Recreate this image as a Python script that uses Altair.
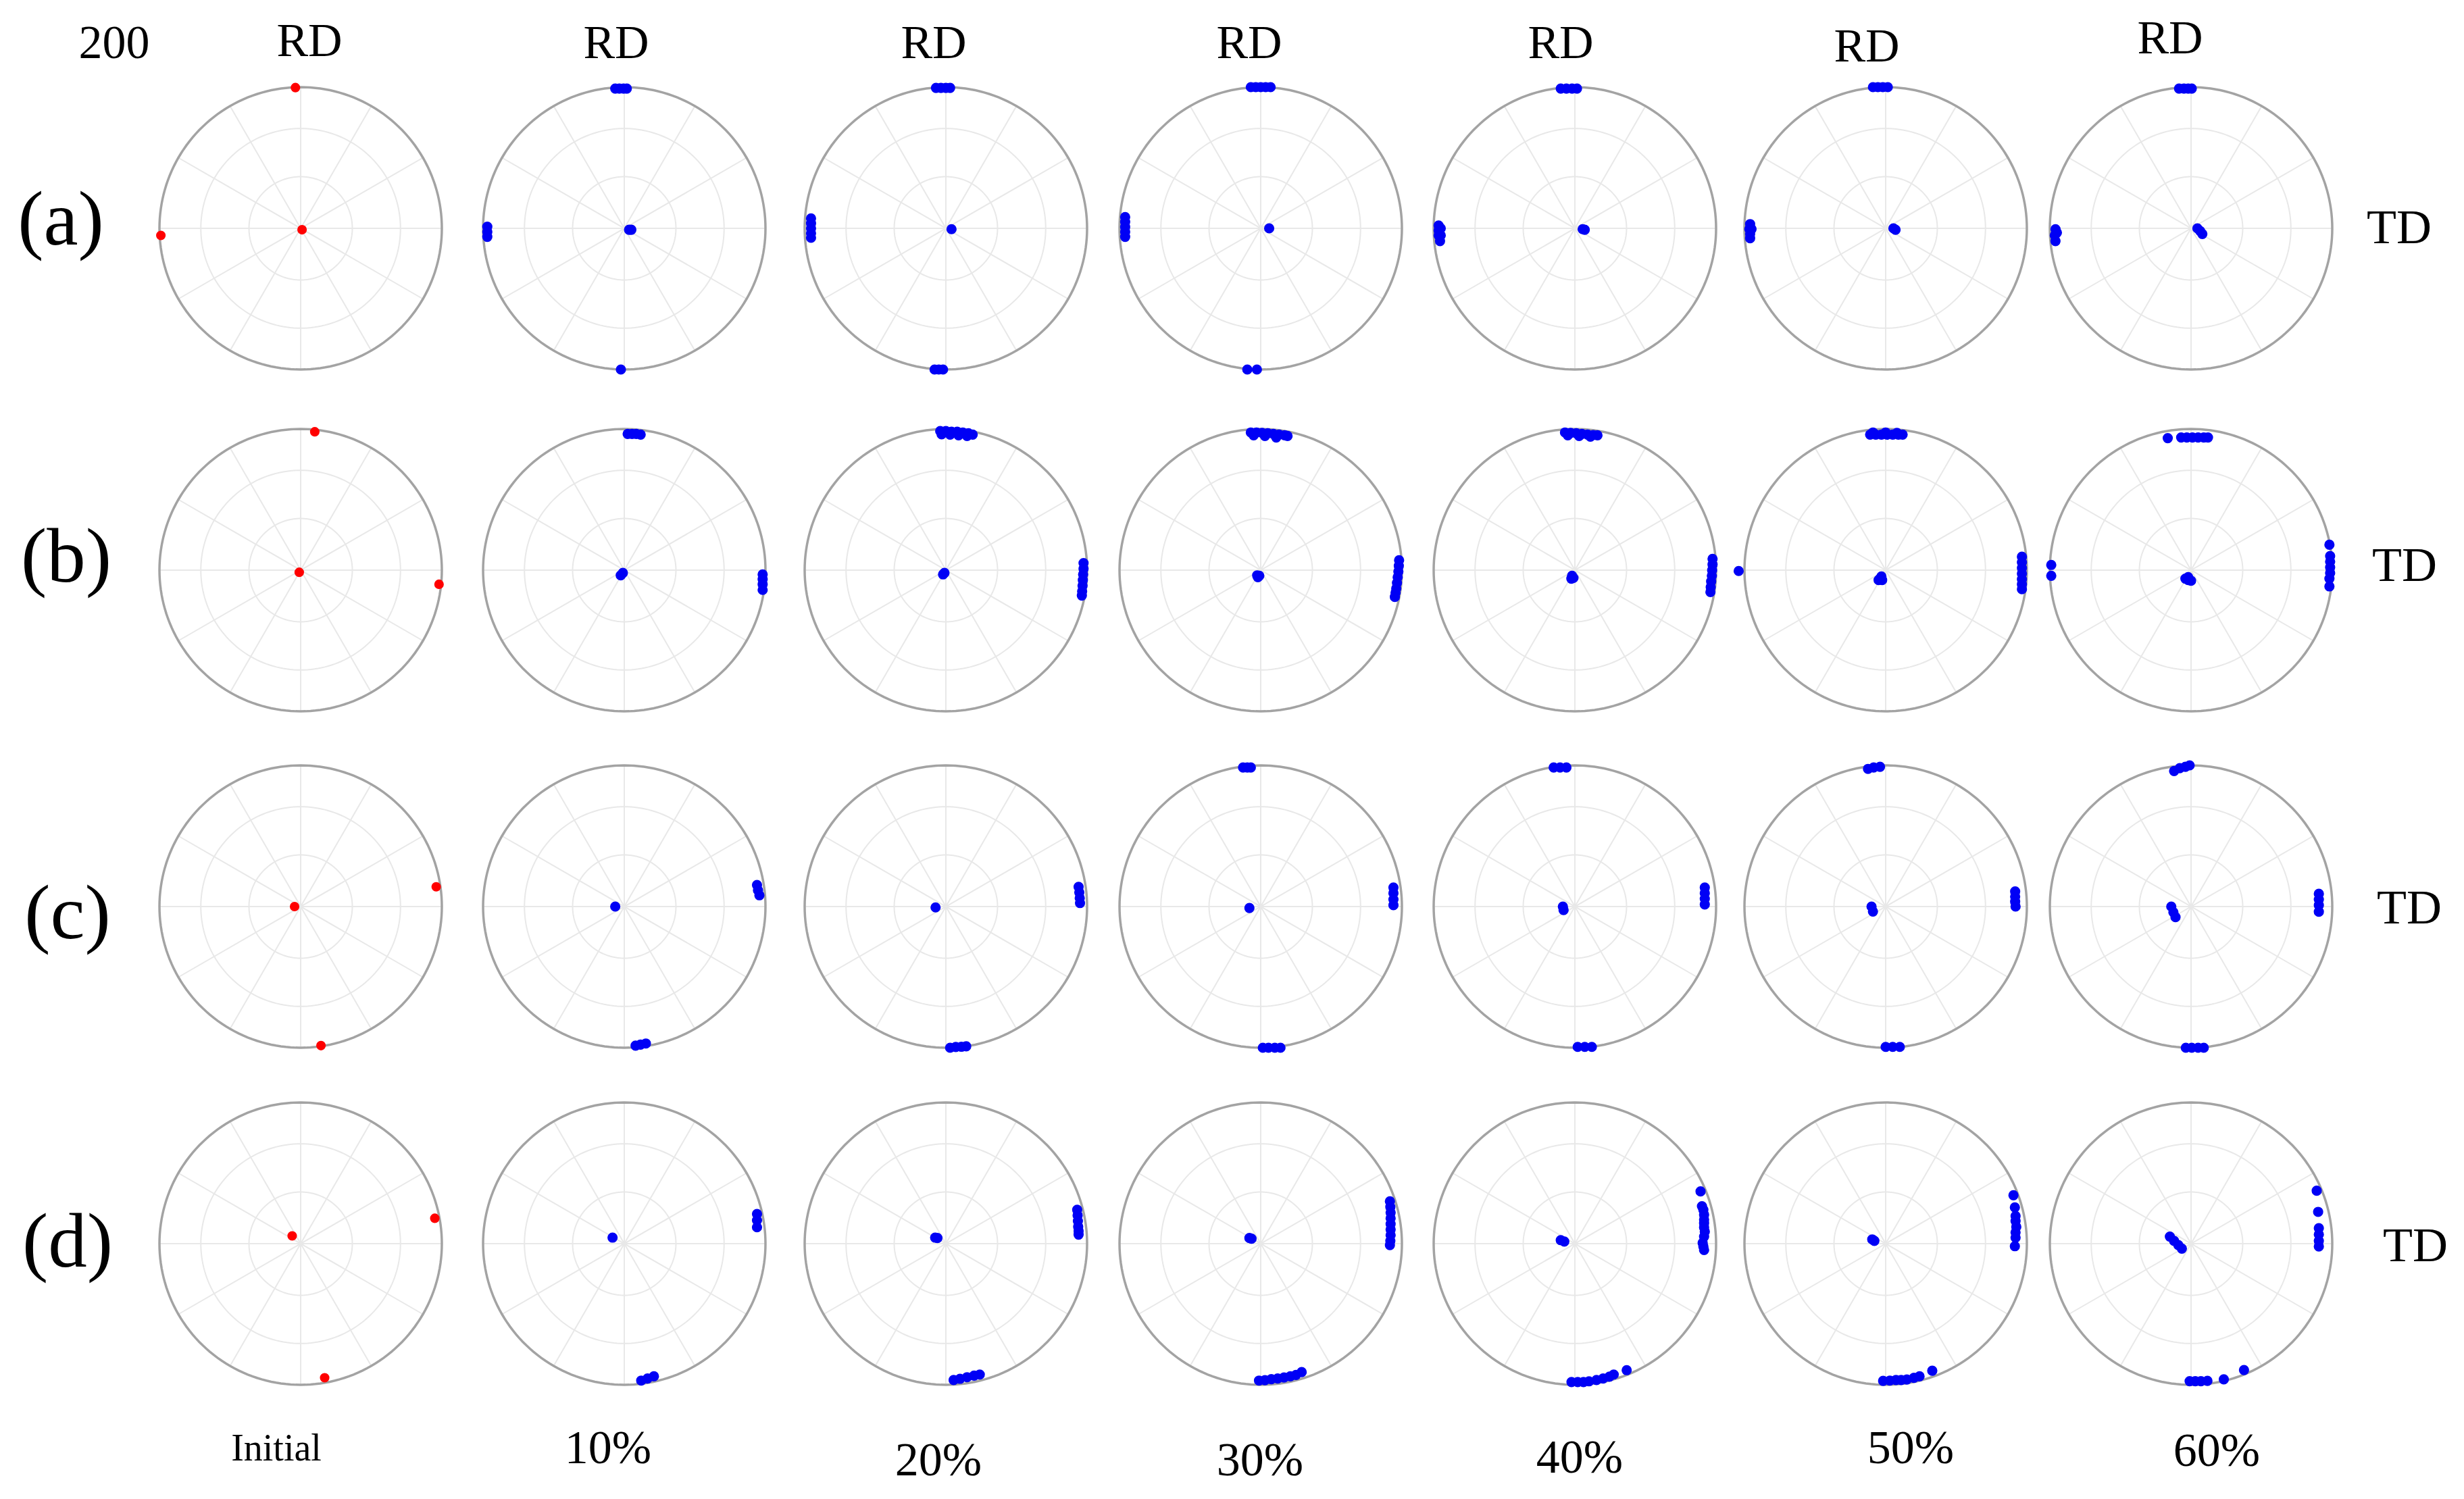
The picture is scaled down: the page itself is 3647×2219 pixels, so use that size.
import altair as alt
import pandas as pd
import numpy as np

# ---------------- data ----------------
ROW_LABELS = ["(a)", "(b)", "(c)", "(d)"]
COL_LABELS = ["Initial", "10%", "20%", "30%", "40%", "50%", "60%"]
FIGURE_TAG = "200"
AXIS_UP = "RD"
AXIS_RIGHT = "TD"
GRID_RINGS = [0.366, 0.707]          # 30 deg and 60 deg tilt rings (equal-area)
SPOKE_ANGLES = [0, 30, 60, 90, 120, 150]

# pole positions, unit circle coordinates: u toward TD (right), v toward RD (up)
POLES_A = [
    [(-0.037, 0.997), (-0.99, -0.05), (0.01, -0.01)],
    [(-0.064, 0.99), (-0.035, 0.99), (-0.005, 0.99), (0.018, 0.99),
     (-0.97, 0.012), (-0.97, -0.025), (-0.97, -0.06),
     (0.034, -0.01), (0.05, -0.01), (-0.024, -1.0)],
    [(-0.07, 0.995), (-0.035, 0.995), (0.0, 0.995), (0.03, 0.995),
     (-0.955, 0.07), (-0.955, 0.035), (-0.955, 0.0), (-0.955, -0.035), (-0.955, -0.067),
     (0.04, -0.006), (-0.08, -1.0), (-0.05, -1.0), (-0.02, -1.0)],
    [(-0.07, 1.0), (-0.035, 1.0), (0.0, 1.0), (0.035, 1.0), (0.07, 1.0),
     (-0.96, 0.08), (-0.96, 0.045), (-0.96, 0.01), (-0.96, -0.025), (-0.96, -0.06),
     (0.06, 0.0), (-0.095, -1.0), (-0.027, -1.0)],
    [(-0.10, 0.99), (-0.06, 0.99), (-0.02, 0.99), (0.015, 0.99),
     (-0.965, 0.02), (-0.95, 0.0), (-0.965, -0.015), (-0.95, -0.05), (-0.965, -0.05), (-0.955, -0.09),
     (0.055, -0.006), (0.07, -0.01)],
    [(-0.09, 1.0), (-0.055, 1.0), (-0.02, 1.0), (0.015, 1.0),
     (-0.96, 0.03), (-0.95, -0.005), (-0.965, -0.005), (-0.96, -0.04), (-0.96, -0.07),
     (0.055, 0.0), (0.07, -0.01)],
    [(-0.085, 0.99), (-0.05, 0.99), (-0.02, 0.99), (0.005, 0.99),
     (-0.96, -0.006), (-0.95, -0.03), (-0.965, -0.05), (-0.96, -0.09),
     (0.045, 0.0), (0.065, -0.02), (0.08, -0.04)],
]
POLES_B = [
    [(0.10, 0.98), (-0.01, -0.015), (0.98, -0.10)],
    [(0.024, 0.965), (0.055, 0.965), (0.085, 0.965), (0.116, 0.96),
     (0.98, -0.03), (0.98, -0.065), (0.98, -0.10), (0.98, -0.14),
     (-0.025, -0.037), (-0.01, -0.02)],
    [(-0.04, 0.985), (0.0, 0.985), (0.04, 0.98), (0.08, 0.98), (0.12, 0.975), (0.16, 0.97), (0.19, 0.96),
     (-0.03, 0.962), (0.03, 0.96), (0.09, 0.955), (0.15, 0.95),
     (0.975, 0.05), (0.975, 0.01), (0.972, -0.03), (0.97, -0.07), (0.968, -0.11), (0.965, -0.15), (0.963, -0.18),
     (-0.02, -0.03), (-0.01, -0.02)],
    [(-0.07, 0.975), (-0.03, 0.975), (0.01, 0.972), (0.05, 0.97), (0.09, 0.965), (0.13, 0.96), (0.17, 0.955), (0.19, 0.95),
     (-0.05, 0.955), (0.03, 0.95), (0.11, 0.94),
     (0.98, 0.07), (0.978, 0.03), (0.975, -0.01), (0.97, -0.05), (0.965, -0.09), (0.96, -0.13), (0.955, -0.16), (0.95, -0.19),
     (-0.025, -0.037), (-0.02, -0.05), (-0.01, -0.04)],
    [(-0.07, 0.975), (-0.03, 0.972), (0.01, 0.97), (0.05, 0.965), (0.09, 0.96), (0.13, 0.957), (0.16, 0.955),
     (-0.05, 0.955), (0.03, 0.95), (0.11, 0.945),
     (0.975, 0.08), (0.975, 0.04), (0.972, 0.0), (0.97, -0.04), (0.965, -0.08), (0.962, -0.12), (0.96, -0.155),
     (1.16, -0.006), (-0.02, -0.04), (-0.01, -0.055), (-0.025, -0.06)],
    [(-0.11, 0.96), (-0.07, 0.96), (-0.03, 0.96), (0.01, 0.96), (0.05, 0.96), (0.09, 0.96), (0.12, 0.96),
     (-0.09, 0.975), (0.0, 0.975), (0.08, 0.972),
     (0.965, 0.095), (0.965, 0.055), (0.965, 0.015), (0.965, -0.025), (0.965, -0.065), (0.965, -0.10), (0.965, -0.135),
     (-0.04, -0.06), (-0.03, -0.045), (-0.05, -0.07), (-0.025, -0.07)],
    [(-0.165, 0.935), (-0.07, 0.94), (-0.03, 0.94), (0.01, 0.94), (0.05, 0.94), (0.09, 0.94), (0.12, 0.94),
     (0.98, 0.18), (0.985, 0.10), (0.985, 0.06), (0.985, 0.02), (0.985, -0.02), (0.98, -0.06), (0.98, -0.115),
     (-0.99, 0.037), (-0.99, -0.04),
     (-0.04, -0.06), (-0.02, -0.07), (0.0, -0.075), (-0.02, -0.05)],
]
POLES_C = [
    [(0.96, 0.14), (-0.043, 0.0), (0.144, -0.985)],
    [(0.94, 0.153), (0.947, 0.115), (0.957, 0.08),
     (-0.064, 0.0), (0.08, -0.985), (0.115, -0.978), (0.153, -0.97)],
    [(0.94, 0.14), (0.945, 0.10), (0.948, 0.06), (0.95, 0.025),
     (-0.073, -0.006), (0.03, -1.0), (0.07, -0.995), (0.11, -0.993), (0.144, -0.99)],
    [(-0.125, 0.985), (-0.095, 0.985), (-0.07, 0.985),
     (0.94, 0.135), (0.94, 0.095), (0.94, 0.05), (0.94, 0.01),
     (-0.08, -0.01), (0.015, -1.0), (0.055, -1.0), (0.1, -1.0), (0.14, -1.0)],
    [(-0.15, 0.985), (-0.105, 0.985), (-0.06, 0.985),
     (0.92, 0.135), (0.92, 0.095), (0.92, 0.055), (0.92, 0.015),
     (-0.085, 0.0), (-0.08, -0.025), (0.02, -0.994), (0.07, -0.994), (0.12, -0.994)],
    [(-0.125, 0.975), (-0.085, 0.985), (-0.04, 0.99),
     (0.917, 0.107), (0.917, 0.07), (0.917, 0.035), (0.92, 0.0),
     (-0.1, 0.0), (-0.09, -0.035), (0.0, -0.994), (0.05, -0.994), (0.1, -0.994)],
    [(-0.12, 0.96), (-0.08, 0.98), (-0.04, 0.99), (-0.01, 1.0),
     (0.905, 0.09), (0.905, 0.05), (0.905, 0.01), (0.905, -0.037),
     (-0.14, 0.0), (-0.125, -0.04), (-0.11, -0.075),
     (-0.037, -1.0), (0.005, -1.0), (0.05, -1.0), (0.09, -1.0)],
]
POLES_D = [
    [(0.95, 0.18), (-0.06, 0.055), (0.17, -0.95)],
    [(0.94, 0.21), (0.94, 0.165), (0.94, 0.116),
     (-0.083, 0.043), (0.12, -0.97), (0.165, -0.955), (0.21, -0.94)],
    [(0.93, 0.24), (0.933, 0.2), (0.935, 0.16), (0.937, 0.12), (0.94, 0.09), (0.94, 0.064),
     (-0.076, 0.043), (-0.06, 0.04),
     (0.055, -0.966), (0.1, -0.957), (0.15, -0.946), (0.2, -0.935), (0.24, -0.927)],
    [(0.915, 0.30), (0.918, 0.26), (0.92, 0.22), (0.92, 0.18), (0.92, 0.14), (0.92, 0.10), (0.92, 0.06), (0.918, 0.02), (0.915, -0.01),
     (-0.08, 0.04), (-0.065, 0.035),
     (-0.012, -0.97), (0.03, -0.967), (0.075, -0.96), (0.12, -0.955), (0.165, -0.948), (0.21, -0.94), (0.25, -0.93), (0.29, -0.91)],
    [(0.89, 0.37), (0.9, 0.265), (0.91, 0.24), (0.915, 0.205), (0.915, 0.17), (0.915, 0.145), (0.915, 0.115),
     (0.92, 0.085), (0.915, 0.05), (0.905, 0.005), (0.91, -0.02), (0.915, -0.045),
     (-0.1, 0.025), (-0.075, 0.015),
     (-0.024, -0.98), (0.02, -0.98), (0.061, -0.98), (0.1, -0.975), (0.153, -0.966), (0.2, -0.955),
     (0.245, -0.942), (0.275, -0.927), (0.367, -0.896)],
    [(0.905, 0.343), (0.915, 0.257), (0.92, 0.196), (0.92, 0.16), (0.925, 0.119), (0.92, 0.08), (0.92, 0.043), (0.915, -0.018),
     (-0.095, 0.03), (-0.08, 0.02),
     (-0.018, -0.972), (0.03, -0.97), (0.073, -0.966), (0.11, -0.966), (0.15, -0.962), (0.2, -0.95), (0.24, -0.94), (0.33, -0.9)],
    [(0.89, 0.375), (0.90, 0.225), (0.905, 0.11), (0.905, 0.065), (0.905, 0.02), (0.905, -0.02),
     (-0.15, 0.05), (-0.12, 0.02), (-0.09, -0.01), (-0.065, -0.035),
     (-0.01, -0.974), (0.03, -0.974), (0.07, -0.974), (0.116, -0.972), (0.232, -0.961), (0.375, -0.895)],
]
POLES = [POLES_A, POLES_B, POLES_C, POLES_D]

# ---------------- layout (figure canvas, pixels) ----------------
W, H = 3631, 2203
COL_X = [445, 924, 1400, 1866, 2331, 2791, 3243]
ROW_Y = [338, 844, 1342, 1841]
R = 209
FONT = "Liberation Serif"

# ---------------- tables ----------------
pts = []
for r, row in enumerate(POLES):
    for c, panel in enumerate(row):
        for (u, v) in panel:
            pts.append({"x": COL_X[c] + R * u, "y": ROW_Y[r] - R * v,
                        "kind": "initial" if c == 0 else "deformed"})
pts = pd.DataFrame(pts)

rings = []
spokes = []
theta = np.deg2rad(np.arange(0, 361, 2))
for r in range(len(ROW_Y)):
    for c in range(len(COL_X)):
        for k, rad in enumerate(GRID_RINGS + [1.0]):
            for i, t in enumerate(theta):
                rings.append({"x": COL_X[c] + R * rad * np.cos(t),
                              "y": ROW_Y[r] - R * rad * np.sin(t),
                              "seq": i, "id": f"{r}-{c}-{k}",
                              "outer": rad == 1.0})
        for a in SPOKE_ANGLES:
            ar = np.deg2rad(a)
            spokes.append({"x": COL_X[c] + R * np.cos(ar), "y": ROW_Y[r] - R * np.sin(ar),
                           "x2": COL_X[c] - R * np.cos(ar), "y2": ROW_Y[r] + R * np.sin(ar)})
rings = pd.DataFrame(rings)
spokes = pd.DataFrame(spokes)

RD_POS = [(458, 62), (912, 65), (1382, 65), (1849, 65), (2310, 65), (2763, 70), (3212, 58)]
TD_POS = [(3551, 338), (3559, 838), (3566, 1345), (3575, 1845)]
ROWLAB_POS = [(90, 327), (98, 826), (100, 1354), (100, 1840)]
COLLAB_POS = [(409, 2145), (900, 2145), (1389, 2163), (1865, 2163), (2338, 2159), (2828, 2145), (3281, 2149)]

texts = [{"x": 169, "y": 65, "t": FIGURE_TAG, "fs": 70}]
for (x, y) in RD_POS:
    texts.append({"x": x, "y": y, "t": AXIS_UP, "fs": 70})
for (x, y) in TD_POS:
    texts.append({"x": x, "y": y, "t": AXIS_RIGHT, "fs": 72})
for lab, (x, y) in zip(ROW_LABELS, ROWLAB_POS):
    texts.append({"x": x, "y": y, "t": lab, "fs": 115})
for lab, (x, y) in zip(COL_LABELS, COLLAB_POS):
    texts.append({"x": x, "y": y, "t": lab, "fs": 56 if lab == "Initial" else 70})
texts = pd.DataFrame(texts)

# ---------------- chart ----------------
xs = alt.Scale(domain=[8, 8 + W], nice=False, zero=False)
ys = alt.Scale(domain=[8, 8 + H], nice=False, zero=False, reverse=True)
X = lambda f: alt.X(f, type="quantitative", scale=xs, axis=None)
Y = lambda f: alt.Y(f, type="quantitative", scale=ys, axis=None)

grid_rings = alt.Chart(rings).transform_filter("!datum.outer").mark_line(
    color="#e8e8e8", strokeWidth=2).encode(x=X("x"), y=Y("y"), detail="id:N", order="seq:Q")
spoke_layer = alt.Chart(spokes).mark_rule(color="#e8e8e8", strokeWidth=2).encode(
    x=X("x"), y=Y("y"), x2="x2:Q", y2="y2:Q")
outer = alt.Chart(rings).transform_filter("datum.outer").mark_line(
    color="#a3a3a3", strokeWidth=3.5).encode(x=X("x"), y=Y("y"), detail="id:N", order="seq:Q")
red = alt.Chart(pts).transform_filter("datum.kind == 'initial'").mark_circle(
    color="#ff0000", size=200, opacity=1).encode(x=X("x"), y=Y("y"))
blue = alt.Chart(pts).transform_filter("datum.kind == 'deformed'").mark_circle(
    color="#0000f5", size=230, opacity=1).encode(x=X("x"), y=Y("y"))
labels = alt.Chart(texts).mark_text(font=FONT, color="black", align="center", baseline="middle").encode(
    x=X("x"), y=Y("y"), text="t:N", size=alt.Size("fs:Q", scale=None))

chart = alt.layer(grid_rings, spoke_layer, outer, red, blue, labels).properties(
    width=W, height=H, autosize=alt.AutoSizeParams(type="none"), padding=0,
    background="white").configure_view(strokeWidth=0)

chart.save("out.html", embed_options={"renderer": "svg", "actions": False})
